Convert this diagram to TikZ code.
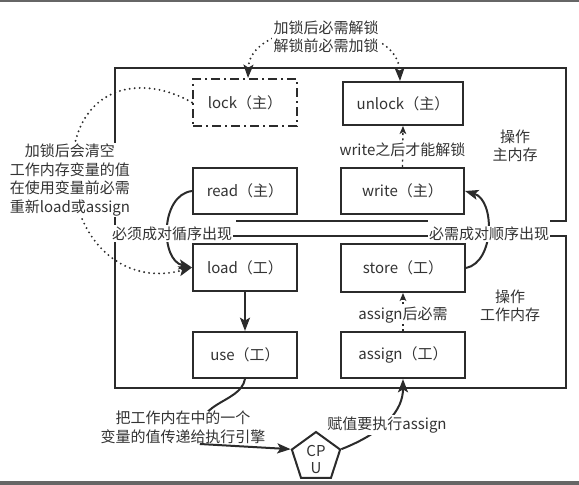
\documentclass[tikz,border=0pt]{standalone}
\usepackage{fontspec}
\setmainfont{Noto Sans CJK SC}
\usetikzlibrary{arrows.meta,shapes.geometric}
\definecolor{linec}{HTML}{2B2B2B}
\definecolor{txt}{HTML}{333333}
\definecolor{barc}{HTML}{666666}
\newcommand\myfont{\fontsize{11.25pt}{13.9pt}\selectfont}
\tikzset{
  box/.style={draw=linec, line width=1.5pt, fill=white, inner sep=0pt, text=txt, font=\myfont},
  frame/.style={draw=linec, line width=1.5pt},
  conn/.style={draw=linec, line width=1.5pt},
  thinconn/.style={draw=linec, line width=1pt, dash pattern=on 1.5pt off 2.5pt},
  dotconn/.style={draw=linec, line width=1.6pt, line cap=round, dash pattern=on 0pt off 3.75pt},
  bigtip/.tip={Stealth[length=10pt,width=7.5pt,inset=2.2pt,line cap=butt]},
  smalltip/.tip={Stealth[length=6pt,width=5pt,inset=1.5pt]},
  lbl/.style={fill=white, inner sep=1pt, text=txt, font=\myfont, align=center},
  plain/.style={inner sep=0pt, text=txt, font=\myfont, align=center},
}
\begin{document}
\begin{tikzpicture}[x=0.75pt,y=-0.75pt]
\useasboundingbox (0,0) rectangle (579,485);
% screenshot bars
\fill[barc] (0,0) rectangle (579,2.5);
\fill[barc] (0,481) rectangle (579,485);
% frames
\draw[frame] (236,221) -- (428,221);
\draw[frame] (550,221) -- (566,221) -- (566,68) -- (115,68) -- (115,388) -- (566,388) -- (566,236) -- (550,236);
\draw[frame] (428,236) -- (232,236);
% boxes
\node[box, minimum width=78pt, minimum height=35.25pt, dash pattern=on 6.75pt off 3pt on 1.5pt off 3pt] (lock) at (245,102.5) {lock（主）};
\node[box, minimum width=90pt, minimum height=32.25pt] (unlock) at (403,103.5) {unlock（主）};
\node[box, minimum width=78pt, minimum height=34.5pt] (read) at (245,191) {read（主）};
\node[box, minimum width=92.25pt, minimum height=34.5pt] (write) at (402.5,191) {write（主）};
\node[box, minimum width=78pt, minimum height=35.25pt] (load) at (245,267.5) {load（工）};
\node[box, minimum width=93pt, minimum height=36pt] (store) at (403,268) {store（工）};
\node[box, minimum width=78pt, minimum height=34.5pt] (use) at (245,355) {use（工）};
\node[box, minimum width=93pt, minimum height=34.5pt] (assign) at (403,355) {assign（工）};
\node[draw=linec, line width=1.5pt, fill=white, regular polygon, regular polygon sides=5, minimum size=38.1pt, inner sep=0pt] (cpu) at (316,457.4) {};
\node[plain, font=\fontsize{11.25pt}{12.75pt}\selectfont] (cputxt) at (316,459.5) {CP\\U};
% coordinates
\coordinate (ubend) at (200,444);
% connectors
\draw[dotconn, {bigtip}-{bigtip}] ([xshift=2.25pt]lock.north) .. controls (250,15) and (398,15) .. ([xshift=-2.25pt]unlock.north);
\draw[dotconn, -{bigtip}] (lock.west) .. controls (135,70) and (68,90) .. (72,180) .. controls (80,250) and (130,285) .. (load.west);
\draw[conn, -{bigtip}] (read.west) .. controls (160,195) and (160,260) .. (load.west);
\draw[conn, -{bigtip}] (store.east) .. controls (495,262) and (495,200) .. (write.east);
\draw[thinconn, -{smalltip}] (write.north) -- (unlock.south);
\draw[thinconn, -{smalltip}] (assign.north) -- (store.south);
\draw[conn, -{bigtip}] (load.south) -- (use.north);
\draw[conn] (use.south) .. controls (240,405) and (190,400) .. (ubend);
\draw[conn, -{bigtip}] (cpu.corner 5) .. controls (385,432) and (403,410) .. (assign.south);
% labels
\node[lbl] (toplbl) at (326,37) {加锁后必需解锁\\解锁前必需加锁};
\node[lbl] (leftlbl) at (70,180) {加锁后会清空\\工作内存变量的值\\在使用变量前必需\\重新load或assign};
\node[lbl] (pairl) at (172,233.5) {必须成对循序出现};
\node[lbl] (pairr) at (489,234) {必需成对顺序出现};
\node[lbl] (wlbl) at (402.5,150) {write之后才能解锁};
\node[lbl] (albl) at (403,315) {assign后必需};
\node[plain] (mainlbl) at (515,146) {操作\\主内存};
\node[plain] (worklbl) at (510,306) {操作\\工作内存};
\node[lbl, inner sep=0pt] (uselbl) at (183,427.5) {把工作内在中的一个\\变量的值传递给执行引擎};
\node[lbl] (cpulbl) at (387,425) {赋值要执行assign};
\draw[conn, -{bigtip}] (ubend) -- (cpu.corner 2);
\end{tikzpicture}
\end{document}
